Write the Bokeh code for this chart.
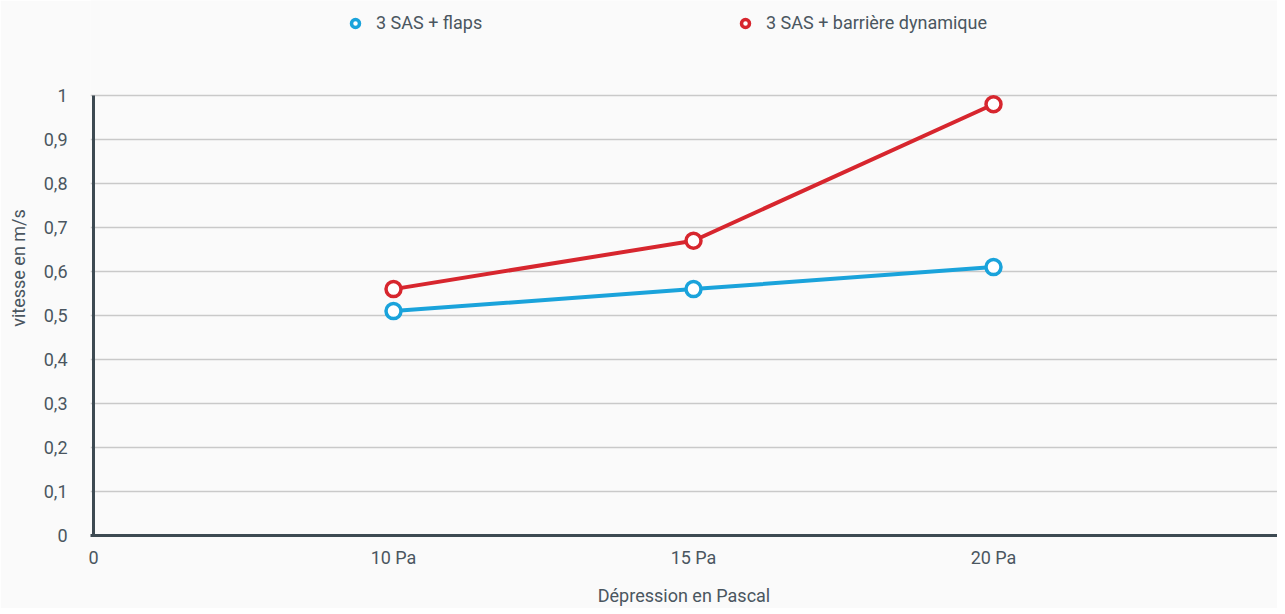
from bokeh.plotting import figure
from bokeh.models import Legend, LegendItem, FixedTicker, Range1d
from bokeh.embed import file_html
from bokeh.resources import INLINE

# ---- data ----
x_labels = ["0", "10 Pa", "15 Pa", "20 Pa"]
x_pos = [1, 2, 3]
flaps = [0.51, 0.56, 0.61]
barriere = [0.56, 0.67, 0.98]
series_names = ["3 SAS + flaps", "3 SAS + barrière dynamique"]
y_ticks = [0, 0.1, 0.2, 0.3, 0.4, 0.5, 0.6, 0.7, 0.8, 0.9, 1.0]
y_tick_labels = ["0", "0,1", "0,2", "0,3", "0,4", "0,5", "0,6", "0,7", "0,8", "0,9", "1"]

BLUE = "#1aa3db"
RED = "#d7262e"
TEXT = "#4a5660"
AXIS = "#3d4a52"
FONT = "Roboto"
FS = "18px"

LEFT = 90
FW, FH = 1277 - LEFT, 535
PX_X, PX_Y = 300, 440  # pixels per x unit / per y unit
x0 = -3 / PX_X

p = figure(frame_width=FW, frame_height=FH, output_backend="svg", toolbar_location=None,
           x_range=Range1d(x0, x0 + FW / PX_X), y_range=Range1d(0, FH / PX_Y),
           min_border_left=LEFT, min_border_right=0, min_border_top=0,
           min_border_bottom=0)
p.background_fill_color = "#fafafa"
p.border_fill_color = "#fafafa"
p.outline_line_color = None

# vertical axis line, drawn from 0 to the top tick only
p.segment(x0=[0], y0=[y_ticks[0]], x1=[0], y1=[y_ticks[-1]], line_color=AXIS,
          line_width=3)

# legend proxies (smaller markers, as in the reference legend); drawn first so the
# real markers cover them completely
leg1 = p.scatter(x_pos, flaps, size=10, fill_color="white", line_color=BLUE, line_width=3.5)
leg2 = p.scatter(x_pos, barriere, size=10, fill_color="white", line_color=RED, line_width=3.5)

# lines + markers
p.line(x_pos, flaps, line_color=BLUE, line_width=4)
p.line(x_pos, barriere, line_color=RED, line_width=4)
p.scatter(x_pos, flaps, size=15, fill_color="white", line_color=BLUE, line_width=3.5)
p.scatter(x_pos, barriere, size=15, fill_color="white", line_color=RED, line_width=3.5)

# axes
p.xaxis.ticker = FixedTicker(ticks=[0, 1, 2, 3])
p.xaxis.major_label_overrides = {i: lab for i, lab in enumerate(x_labels)}
p.yaxis.ticker = FixedTicker(ticks=y_ticks)
p.yaxis.major_label_overrides = {t: l for t, l in zip(y_ticks, y_tick_labels)}
for ax in (p.xaxis, p.yaxis):
    ax.axis_line_color = AXIS
    ax.axis_line_width = 3
    ax.major_tick_line_color = None
    ax.minor_tick_line_color = None
    ax.major_tick_out = 0
    ax.major_tick_in = 0
    ax.minor_tick_out = 0
    ax.minor_tick_in = 0
    ax.major_label_text_font = FONT
    ax.major_label_text_font_size = FS
    ax.major_label_text_color = TEXT
    ax.axis_label_text_font = FONT
    ax.axis_label_text_font_size = FS
    ax.axis_label_text_font_style = "normal"
    ax.axis_label_text_color = TEXT
p.yaxis.axis_line_color = None
p.yaxis.major_label_standoff = 23
p.yaxis.axis_label = "vitesse en m/s"
p.yaxis.axis_label_standoff = 12
p.xaxis.major_label_standoff = 11
p.xaxis.axis_label = "Dépression en Pascal"
p.xaxis.axis_label_standoff = 14

p.xgrid.grid_line_color = None
p.ygrid.grid_line_color = "#c9c9c9"
p.ygrid.grid_line_width = 1.5
p.ygrid.ticker = FixedTicker(ticks=y_ticks[1:])

# legends inside the (tall) frame, above the data area
for r, name, xloc in ((leg1, series_names[0], 255), (leg2, series_names[1], 645)):
    lg = Legend(items=[LegendItem(label=name, renderers=[r], index=0)],
                location=(xloc, FH - 33),
                orientation="horizontal", padding=0, margin=0, glyph_width=20,
                glyph_height=20, label_standoff=11, border_line_color=None,
                background_fill_alpha=0, label_text_font=FONT,
                label_text_font_size=FS, label_text_color=TEXT)
    p.add_layout(lg)

open("out.html", "w").write(file_html(p, INLINE))
